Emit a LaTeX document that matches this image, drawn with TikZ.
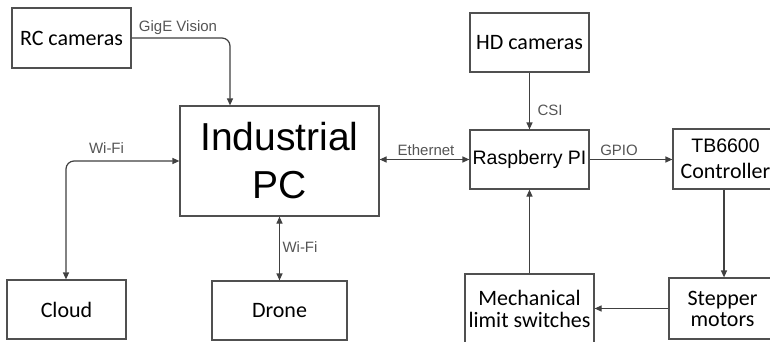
\documentclass[tikz,border=0pt]{standalone}
\usepackage{fontspec}
\setmainfont{Carlito}
\newfontfamily\arialf{Liberation Sans}
\usetikzlibrary{arrows.meta}
\definecolor{linec}{HTML}{404040}
\definecolor{boxc}{HTML}{505050}
\definecolor{labc}{HTML}{555555}
\tikzset{
 box/.style={draw=boxc, line width=1.2pt, inner sep=0pt, align=center, font=\fontsize{22}{19}\selectfont, text=black},
 conn/.style={draw=linec, line width=1.2pt, -{Triangle[length=7pt,width=6pt]}},
 conn2/.style={draw=linec, line width=1.2pt, {Triangle[length=7pt,width=6pt]}-{Triangle[length=7pt,width=6pt]}},
 lab/.style={font=\arialf\fontsize{15}{18}\selectfont, text=labc, inner sep=0pt},
}
\begin{document}
\begin{tikzpicture}[x=1pt,y=-1pt]
\useasboundingbox (0,0) rectangle (770,342);
\clip (0,0) rectangle (770,342);
\fill[white] (0,0) rectangle (770,342);

\node[box, minimum width=119pt, minimum height=60pt] (rc) at (71.5,38) {RC cameras};
\node[box, minimum width=199pt, minimum height=110pt, font=\arialf\fontsize{39}{48}\selectfont] (ipc) at (279.5,161) {Industrial\\PC};
\node[box, minimum width=119pt, minimum height=59pt] (hd) at (529.5,42.5) {HD cameras};
\node[box, minimum width=119pt, minimum height=59pt, font=\arialf\fontsize{19.5}{22}\selectfont] (rpi) at (529.5,159.5) {Raspberry PI};
\node[box, minimum width=105pt, minimum height=60pt, font=\fontsize{22}{26}\selectfont] (tb) at (725.5,159) {{\arialf\fontsize{19.5}{26}\selectfont TB6600}\\Controller};
\node[box, minimum width=119pt, minimum height=59pt] (cloud) at (66.5,309.5) {Cloud};
\node[box, minimum width=135pt, minimum height=59pt] (drone) at (279.5,310.5) {Drone};
\node[box, minimum width=129pt, minimum height=70pt, font=\fontsize{22}{22.5}\selectfont] (mech) at (529.5,309) {Mechanical\\limit switches};
\node[box, minimum width=107pt, minimum height=61pt, font=\fontsize{22}{21}\selectfont] (step) at (722.5,308.5) {Stepper\\motors};

\draw[conn, rounded corners=8pt] (rc.east) -| ([xshift=-49.5pt]ipc.north);
\draw[conn2, rounded corners=8pt] (ipc.west) -| ([xshift=-0.5pt]cloud.north);
\draw[conn2] (ipc.south) -- (drone.north);
\draw[conn2] (rpi.west -| ipc.east) -- (rpi.west);
\draw[conn] (hd.south) -- (rpi.north);
\draw[conn] (rpi.east) -- (rpi.east -| tb.west);
\draw[conn] ([xshift=-1.5pt]tb.south) -- ([xshift=-1.5pt]tb.south |- step.north);
\draw[conn] (step.west) -- (step.west -| mech.east);
\draw[conn] (mech.north) -- (rpi.south);

\node[lab] (lgige) at (178,28) {GigE Vision};
\node[lab] (lwifi1) at (106.5,148) {Wi-Fi};
\node[lab] (leth) at (426,150) {Ethernet};
\node[lab] (lwifi2) at (300,247) {Wi-Fi};
\node[lab] (lcsi) at (550,110) {CSI};
\node[lab] (lgpio) at (619,150) {GPIO};
\end{tikzpicture}
\end{document}
